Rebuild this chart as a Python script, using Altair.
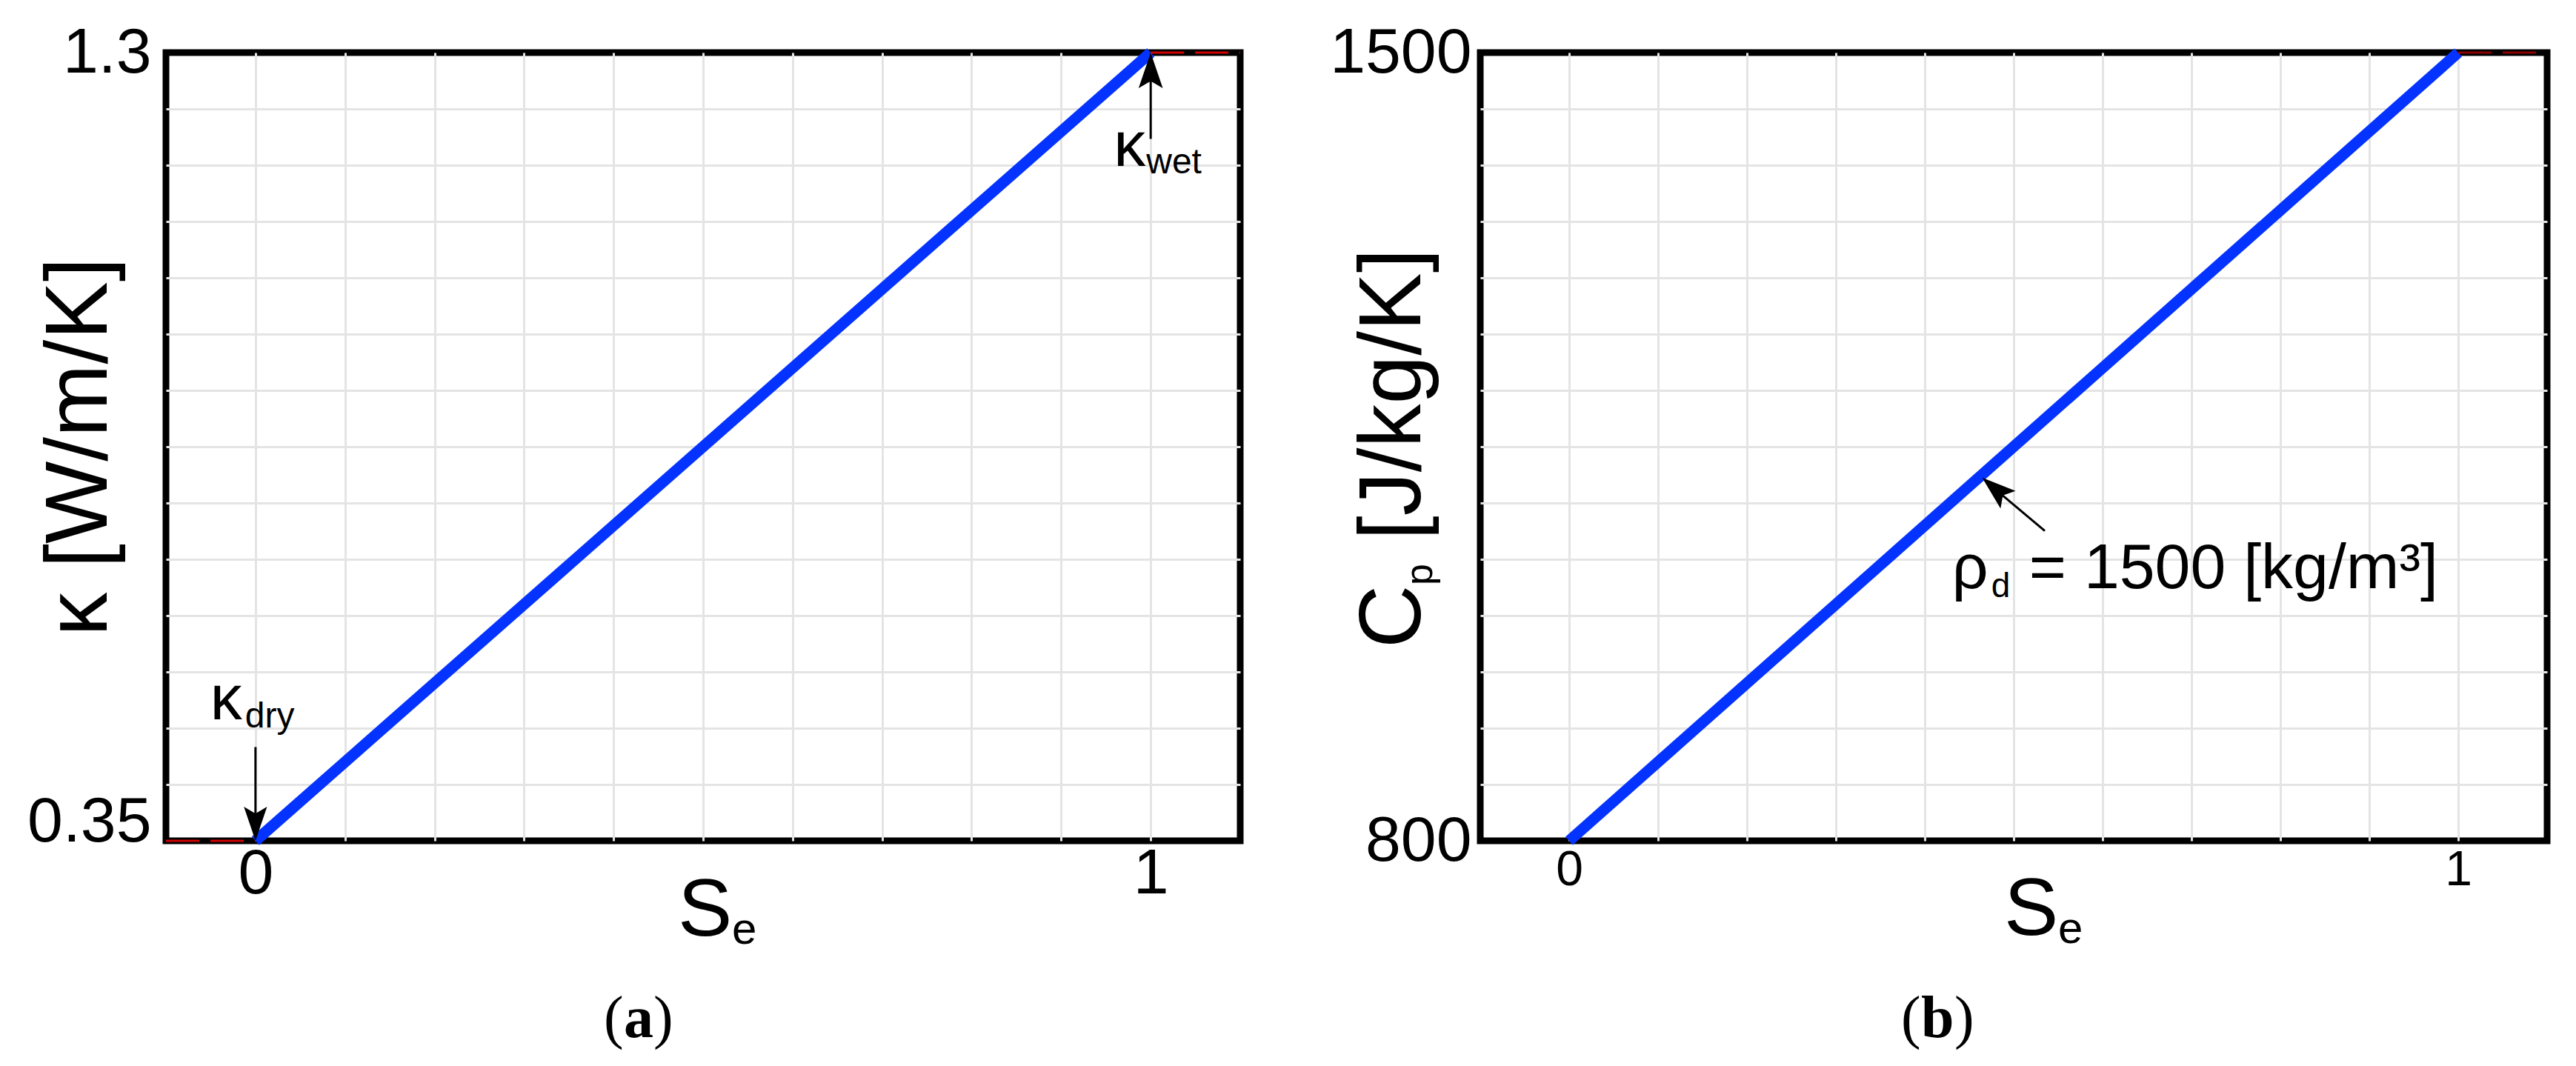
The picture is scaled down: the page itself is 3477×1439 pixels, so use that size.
import altair as alt
import pandas as pd

FONT = "Liberation Sans"
SERIF = "Liberation Serif"
BLUE = "#0433ff"
RED_A = "#d00000"
RED_B = "#8a0000"
GRID = "#e4e4e4"

# ---------------- data ----------------
se_line = [0.0, 1.0]
kappa_line = [0.35, 1.3]
cp_line = [800, 1500]

kappa_dry_ext_se = [-0.1, 0.0]
kappa_dry_ext_val = [0.35, 0.35]
kappa_wet_ext_se = [1.0, 1.1]
kappa_wet_ext_val = [1.3, 1.3]
cp_ext_se = [1.0, 1.1]
cp_ext_val = [1500, 1500]

x_domain = [-0.1, 1.1]
x_ticks = [-0.1, 0.0, 0.1, 0.2, 0.3, 0.4, 0.5, 0.6, 0.7, 0.8, 0.9, 1.0, 1.1]
kappa_domain = [0.35, 1.3]
kappa_ticks = [round(0.35 + k * 0.95 / 14, 4) for k in range(15)]
cp_domain = [800, 1500]
cp_ticks = [800, 850, 900, 950, 1000, 1050, 1100, 1150, 1200, 1250, 1300, 1350, 1400, 1450, 1500]

# annotations (data coordinates)
dry_arrow = {"x": [0.0], "y": [0.463], "x2": [0.0], "y2": [0.37]}
dry_head = {"x": [0.0], "y": [0.35], "a": [180]}
dry_label = {"x": [-0.0505], "y": [0.4966]}
wet_arrow = {"x": [1.0], "y": [1.196], "x2": [1.0], "y2": [1.28]}
wet_head = {"x": [1.0], "y": [1.3], "a": [0]}
wet_label = {"x": [0.9587], "y": [1.163]}
rho_arrow = {"x": [0.535], "y": [1075.2], "x2": [0.475], "y2": [1115.0]}
rho_head = {"x": [0.4645], "y": [1122.5], "a": [310.4]}
rho_label = {"x": [0.4307], "y": [1024.5]}

ARROW = "M0,0 L0.34,1 L0,0.8 L-0.34,1 Z"

W_A, W_B, H = 1450, 1440, 1064
TITLE = 118


def x_axis(size, pad):
    return alt.Axis(
        values=x_ticks,
        labelExpr="abs(datum.value) < 1e-6 ? '0' : abs(datum.value - 1) < 1e-6 ? '1' : ''",
        title=None, domain=False, ticks=False, tickSize=0,
        grid=True, gridColor=GRID, gridWidth=3,
        gridOpacity={"condition": {"test": "datum.value < -0.05 || datum.value > 1.05", "value": 0}, "value": 1},
        labelFont=FONT, labelFontSize=size, labelColor="black", labelPadding=pad,
        labelOverlap=False, labelFlush=False, labelLimit=500,
    )


def y_axis(values, fmt, expr, grid_test, pad, baseline):
    return alt.Axis(
        values=values, format=fmt, labelExpr=expr,
        title=None, domain=False, ticks=False, tickSize=0,
        grid=True, gridColor=GRID, gridWidth=3,
        gridOpacity={"condition": {"test": grid_test, "value": 0}, "value": 1},
        labelFont=FONT, labelFontSize=86, labelColor="black", labelPadding=pad,
        labelOverlap=False, labelFlush=False, labelBaseline=baseline, labelLimit=500,
    )


def txt(t, x, y, size, align="left", angle=0, font=FONT, weight="normal"):
    return alt.Chart(pd.DataFrame({"t": [t]})).mark_text(
        align=align, baseline="alphabetic", angle=angle, font=font,
        fontSize=size, fontWeight=weight, color="black",
    ).encode(text="t:N", x=alt.value(x), y=alt.value(y))


def panel(yvals, ydom, yaxis, xsize, xpad, ext_se, ext_val, red):
    xs = alt.Scale(domain=x_domain, nice=False, zero=False)
    ys = alt.Scale(domain=ydom, nice=False, zero=False)
    line = alt.Chart(pd.DataFrame({"x": se_line, "y": yvals})).mark_line(
        color=BLUE, strokeWidth=15, strokeCap="butt"
    ).encode(x=alt.X("x:Q", scale=xs, axis=x_axis(xsize, xpad)),
             y=alt.Y("y:Q", scale=ys, axis=yaxis))
    layers = [line]
    for sx, sv in zip(ext_se, ext_val):
        layers.append(alt.Chart(pd.DataFrame({"x": sx, "y": sv})).mark_line(
            color=red, strokeWidth=3, strokeDash=[45, 15]
        ).encode(x="x:Q", y="y:Q"))
    return layers


def arrow(arr, head, s):
    rule = alt.Chart(pd.DataFrame(arr)).mark_rule(color="black", strokeWidth=3).encode(
        x="x:Q", y="y:Q", x2="x2:Q", y2="y2:Q")
    hd = alt.Chart(pd.DataFrame(head)).mark_point(
        shape=ARROW, filled=True, color="black", opacity=1, size=(2 * s) ** 2, strokeWidth=0
    ).encode(x="x:Q", y="y:Q", angle=alt.Angle("a:Q", scale=None))
    return [rule, hd]


def label(pos, main, sub, size, sub_size, sub_dx, sub_dy, rest=None, rest_dx=0):
    df = pd.DataFrame(pos)
    out = [
        alt.Chart(df).mark_text(align="left", baseline="alphabetic", font=FONT, fontSize=size,
                                color="black").encode(x="x:Q", y="y:Q", text=alt.value(main)),
        alt.Chart(df).mark_text(align="left", baseline="alphabetic", font=FONT, fontSize=sub_size,
                                color="black", dx=sub_dx, dy=sub_dy).encode(x="x:Q", y="y:Q", text=alt.value(sub)),
    ]
    if rest is not None:
        out.append(alt.Chart(df).mark_text(align="left", baseline="alphabetic", font=FONT, fontSize=size,
                                           color="black", dx=rest_dx).encode(x="x:Q", y="y:Q", text=alt.value(rest)))
    return out


# ---------------- panel (a) ----------------
ya = y_axis(kappa_ticks, ".2~f",
            "abs(datum.value-0.35)<1e-6 || abs(datum.value-1.3)<1e-6 ? datum.label : ''",
            "datum.value < 0.36 || datum.value > 1.29", 20,
            {"condition": {"test": "datum.value < 0.5", "value": "alphabetic"}, "value": "middle"})
la = panel(kappa_line, kappa_domain, ya, 86, 2,
           [kappa_dry_ext_se, kappa_wet_ext_se], [kappa_dry_ext_val, kappa_wet_ext_val], RED_A)
la += arrow(dry_arrow, dry_head, 46)
la += arrow(wet_arrow, wet_head, 48)
la += label(dry_label, "κ", "dry", 86, 48, 47, 11)
la += label(wet_label, "κ", "wet", 86, 48, 44, 10)
la += [
    txt("κ [W/m/K]", -80, H / 2, TITLE, align="center", angle=270),
    txt("S", 691, H + 128, 110),
    txt("e", 764, H + 139, 60),
    txt("(", 591, H + 265, 80, font=SERIF),
    txt("a", 618, H + 265, 80, font=SERIF, weight="bold"),
    txt(")", 658, H + 265, 80, font=SERIF),
]
chart_a = alt.layer(*la).properties(width=W_A, height=H)

# ---------------- panel (b) ----------------
yb = y_axis(cp_ticks, "d",
            "datum.value == 800 || datum.value == 1500 ? datum.label : ''",
            "datum.value < 801 || datum.value > 1499", 12, "middle")
lb = panel(cp_line, cp_domain, yb, 66, 7, [cp_ext_se], [cp_ext_val], RED_B)
lb += arrow(rho_arrow, rho_head, 46)
lb += label(rho_label, "ρ", "d", 86, 46, 53, 12, rest="= 1500 [kg/m³]", rest_dx=104)
lb += [
    txt("C", -81, 804, TITLE, angle=270),
    txt("p", -65, 719, 52, angle=270),
    txt("[J/kg/K]", -81, 658, TITLE, angle=270),
    txt("S", 707, H + 127, 110),
    txt("e", 780, H + 138, 60),
    txt("(", 568, H + 265, 80, font=SERIF),
    txt("b", 595, H + 265, 80, font=SERIF, weight="bold"),
    txt(")", 640, H + 265, 80, font=SERIF),
]
chart_b = alt.layer(*lb).properties(width=W_B, height=H)

chart = alt.hconcat(chart_a, chart_b, spacing=105).properties(
    padding={"left": 24, "top": 15, "right": 5, "bottom": 5},
    background="white",
).configure_view(stroke="black", strokeWidth=9)

chart.save("out.html", embed_options={"renderer": "svg", "actions": False})
